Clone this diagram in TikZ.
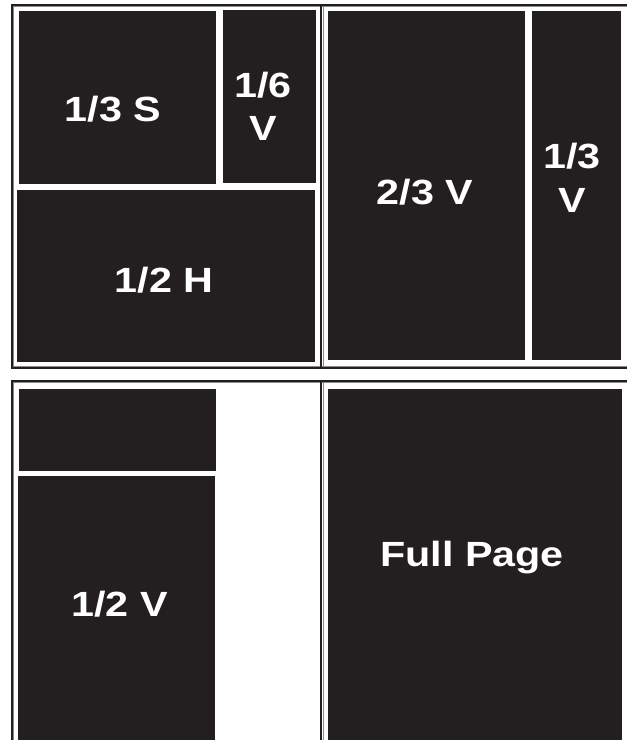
\documentclass[tikz,border=0pt]{standalone}
\usepackage{fontspec}
\newfontfamily\labfont{Liberation Sans}[FakeStretch=1.18]
\definecolor{boxdark}{HTML}{231F20}
\definecolor{framegray}{HTML}{8A8A8A}
\tikzset{
  blk/.style={fill=boxdark},
  frm/.style={draw=boxdark, line width=2.2bp},
  frmg/.style={draw=framegray, line width=0.9bp},
  lab/.style={text=white, align=center, inner sep=0pt,
    font=\labfont\bfseries\fontsize{35bp}{43.5bp}\selectfont}
}
\begin{document}
\begin{tikzpicture}[x=1bp,y=-1bp]
\useasboundingbox (0,0) rectangle (627,740);
% frames, top half
\draw[frmg] (13.3,6.4) -- (640,6.4);
\draw[frmg] (13.3,6.4) -- (13.3,366);
\draw[frmg] (323.1,6.4) -- (323.1,366);
\draw[frmg] (13.3,366.2) -- (640,366.2);
\draw[frm] (11.8,5) -- (640,5);
\draw[frm] (11.8,4) -- (11.8,369);
\draw[frm] (321.3,5) -- (321.3,367.7);
\draw[frm] (10.7,367.7) -- (640,367.7);
% frames, bottom half
\draw[frmg] (13.3,382.6) -- (640,382.6);
\draw[frmg] (13.3,382.6) -- (13.3,745);
\draw[frmg] (323.1,382.6) -- (323.1,745);
\draw[frm] (10.7,381.2) -- (640,381.2);
\draw[frm] (11.8,380.1) -- (11.8,745);
\draw[frm] (321.3,381.2) -- (321.3,745);
% blocks, top
\fill[blk] (19,11) rectangle (216,184);
\fill[blk] (222.7,10) rectangle (316,183);
\fill[blk] (17,190) rectangle (315,362);
\fill[blk] (328.3,11) rectangle (525,360);
\fill[blk] (532.3,11) rectangle (621.3,360);
% blocks, bottom
\fill[blk] (19,389) rectangle (216,471);
\fill[blk] (18,475.7) rectangle (215,745);
\fill[blk] (328.3,389) rectangle (622,745);
% labels
\node[lab, anchor=base] (s13) at (113,121.7) {1/3 S};
\node[lab] (v16) at (263,106.5) {1/6\\V};
\node[lab, anchor=base] (h12) at (164,292.7) {1/2 H};
\node[lab, anchor=base] (v23) at (425,204.5) {2/3 V};
\node[lab] (v13) at (572,178) {1/3\\V};
\node[lab, anchor=base] (v12) at (119.5,616.7) {1/2 V};
\node[lab, anchor=base] (full) at (472,566.7) {Full Page};
\end{tikzpicture}
\end{document}
